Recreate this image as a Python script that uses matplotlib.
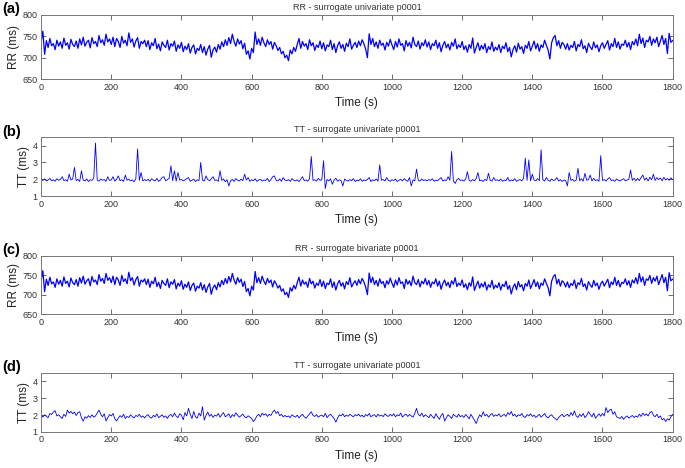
import matplotlib
matplotlib.use('Agg')
import matplotlib.pyplot as plt
import numpy as np

plt.rcParams['font.family'] = ['Liberation Sans', 'DejaVu Sans']

# sample times (s), one value every 5 s
t = np.arange(0, 1801, 5)

# RR - surrogate univariate (ms)
rr_univariate = [
    736, 762, 708, 740, 724, 745, 728, 733, 719, 741, 727, 737, 722, 746, 729, 735, 720, 743, 731, 726,
    739, 722, 744, 730, 748, 727, 736, 741, 723, 747, 733, 738, 726, 752, 735, 742, 729, 755, 737, 744,
    731, 748, 726, 745, 738, 724, 750, 734, 741, 728, 758, 736, 744, 725, 739, 747, 722, 738, 733, 741,
    726, 740, 719, 735, 728, 745, 721, 732, 716, 737, 729, 724, 741, 718, 733, 727, 739, 715, 730, 722,
    736, 714, 727, 719, 733, 711, 724, 730, 709, 722, 717, 731, 712, 726, 706, 720, 729, 701, 718, 725,
    713, 731, 720, 737, 726, 742, 729, 747, 733, 755, 738, 727, 744, 732, 740, 721, 734, 708, 716, 697,
    722, 712, 760, 731, 744, 729, 748, 735, 726, 742, 731, 738, 720, 736, 728, 717, 724, 709, 715, 700,
    706, 693, 718, 709, 724, 715, 731, 745, 722, 738, 727, 733, 719, 742, 728, 735, 717, 730, 724, 739,
    721, 735, 716, 730, 726, 741, 719, 733, 712, 728, 737, 722, 731, 715, 734, 726, 744, 720, 729, 736,
    724, 739, 728, 742, 733, 720, 700, 756, 731, 745, 726, 737, 722, 741, 729, 734, 718, 736, 727, 743,
    730, 719, 738, 725, 744, 729, 733, 716, 740, 727, 736, 723, 748, 731, 726, 739, 720, 735, 728, 742,
    725, 737, 719, 733, 728, 741, 722, 735, 714, 729, 738, 723, 732, 718, 736, 727, 744, 721, 730, 724,
    738, 719, 728, 713, 731, 722, 746, 711, 724, 735, 717, 729, 720, 733, 712, 726, 719, 737, 715, 725,
    718, 731, 712, 727, 721, 735, 714, 724, 702, 719, 728, 713, 734, 720, 726, 710, 729, 722, 738, 716,
    727, 739, 721, 733, 715, 730, 724, 741, 729, 718, 697, 735, 747, 752, 728, 740, 722, 736, 731, 720,
    733, 718, 729, 724, 738, 716, 731, 726, 742, 721, 728, 712, 734, 725, 719, 737, 723, 730, 714, 728,
    735, 722, 731, 740, 718, 733, 726, 745, 724, 737, 720, 732, 729, 741, 725, 736, 719, 738, 730, 744,
    728, 755, 733, 746, 724, 741, 737, 750, 729, 744, 735, 748, 726, 739, 752, 731, 745, 710, 757, 736,
    740,
]

# RR - surrogate bivariate (ms): looks the same as the univariate one in the picture
rr_bivariate = list(rr_univariate)

# TT - surrogate univariate, panel (b) (ms)
tt_spiky = [
    1.98, 1.93, 2.02, 1.90, 1.96, 2.04, 1.91, 1.97, 1.89, 2.03, 1.94, 1.99, 2.15, 1.92, 1.97, 1.88, 2.30, 1.95, 2.01, 2.70,
    1.92, 1.99, 1.87, 2.50, 1.95, 1.90, 2.02, 1.86, 1.97, 1.93, 2.06, 4.15, 1.95, 1.89, 2.01, 1.94, 1.98, 1.88, 2.15, 1.93,
    1.96, 2.15, 1.89, 2.00, 2.20, 1.92, 1.97, 1.87, 2.25, 1.94, 2.01, 1.90, 1.96, 1.85, 2.03, 3.80, 1.93, 2.40, 1.90, 1.98,
    1.92, 1.99, 1.88, 2.03, 1.95, 1.90, 2.05, 1.87, 1.96, 2.10, 2.15, 1.91, 1.98, 2.06, 2.80, 1.92, 2.50, 1.89, 2.40, 1.95,
    1.99, 1.90, 1.96, 2.04, 2.10, 1.88, 1.94, 2.01, 1.86, 1.97, 1.92, 3.00, 1.95, 1.89, 2.20, 1.98, 1.91, 2.03, 2.15, 1.93,
    1.96, 1.88, 2.50, 1.93, 2.02, 1.85, 1.97, 1.60, 1.91, 1.99, 1.87, 2.04, 1.94, 1.89, 2.01, 1.92, 2.30, 1.95, 2.10, 1.88,
    1.97, 1.91, 2.03, 1.87, 1.95, 2.00, 1.89, 1.96, 1.92, 2.05, 1.86, 1.98, 2.15, 2.20, 1.93, 1.90, 2.02, 1.88, 2.10, 1.95,
    1.91, 1.98, 1.87, 2.04, 1.94, 1.90, 1.97, 1.86, 2.01, 2.15, 1.92, 1.96, 1.88, 2.03, 3.35, 1.93, 1.97, 1.89, 2.05, 1.94,
    1.96, 3.10, 1.45, 1.99, 1.90, 2.02, 1.70, 1.95, 2.06, 1.88, 1.97, 1.92, 1.60, 2.01, 1.93, 1.89, 1.98, 1.91, 2.04, 1.87,
    1.95, 1.90, 2.03, 1.88, 1.96, 1.92, 1.99, 2.10, 1.86, 1.97, 1.91, 2.02, 1.89, 2.85, 1.94, 1.98, 1.90, 2.10, 1.93, 1.88,
    1.97, 1.92, 2.01, 1.87, 1.95, 1.99, 1.90, 2.04, 1.93, 1.88, 2.10, 1.60, 1.96, 1.91, 2.60, 1.94, 1.89, 2.02, 1.92, 1.97,
    1.90, 1.98, 1.93, 2.03, 1.88, 1.95, 1.91, 2.01, 2.10, 1.89, 1.96, 1.92, 2.15, 1.94, 3.65, 1.90, 1.75, 1.97, 2.05, 1.92,
    1.96, 1.89, 2.02, 2.45, 1.93, 1.88, 1.98, 1.91, 2.04, 2.40, 1.90, 1.95, 1.87, 1.99, 1.92, 2.35, 1.94, 1.89, 2.10, 1.93,
    1.97, 1.90, 2.01, 1.88, 1.95, 1.92, 2.10, 1.89, 1.96, 1.91, 2.03, 1.87, 1.94, 1.98, 1.90, 2.05, 3.25, 1.93, 3.15, 1.91,
    2.30, 1.95, 1.90, 2.04, 1.92, 3.75, 1.97, 1.89, 2.10, 1.94, 1.88, 2.01, 1.93, 1.96, 2.10, 1.90, 1.98, 1.87, 1.95, 1.92,
    1.60, 2.40, 1.93, 1.99, 1.88, 1.95, 2.65, 1.91, 2.03, 1.89, 2.35, 1.94, 1.98, 2.25, 1.90, 2.05, 1.92, 1.97, 1.88, 3.40,
    1.93, 1.98, 1.89, 2.02, 2.10, 1.92, 1.96, 1.88, 2.01, 1.94, 1.90, 1.97, 2.03, 1.91, 1.95, 1.99, 2.55, 1.93, 2.06, 1.90,
    2.05, 1.92, 2.10, 2.25, 1.95, 2.08, 1.90, 2.12, 1.97, 2.30, 1.93, 2.10, 1.98, 2.07, 1.91, 2.12, 1.96, 2.04, 1.94, 2.08,
    1.97,
]

# TT - surrogate univariate, panel (d) (ms)
tt_smooth = [
    2.05, 1.88, 2.02, 1.93, 1.85, 2.10, 2.04, 2.18, 2.26, 1.95, 2.02, 1.90, 1.80, 2.05, 1.92, 2.30, 2.12, 2.22, 2.08, 2.18,
    1.98, 2.15, 2.20, 1.85, 1.64, 1.90, 1.82, 1.97, 1.86, 2.02, 1.88, 1.95, 2.12, 2.30, 2.05, 1.90, 2.08, 1.65, 1.85, 2.03,
    1.95, 2.10, 1.78, 1.65, 1.82, 1.97, 1.87, 2.05, 1.80, 1.92, 1.86, 2.02, 1.90, 1.84, 1.98, 1.92, 2.05, 1.88, 1.95, 1.83,
    1.96, 2.03, 1.88, 1.82, 1.99, 1.90, 2.07, 1.85, 1.93, 2.02, 1.87, 1.95, 1.80, 1.98, 2.04, 1.90, 2.12, 1.94, 1.85, 2.08,
    2.00, 1.72, 2.15, 1.95, 2.40, 2.05, 1.80, 2.22, 1.90, 1.82, 2.12, 1.95, 2.50, 1.70, 1.98, 2.18, 1.93, 2.05, 1.86, 2.00,
    1.94, 2.10, 1.88, 2.02, 2.15, 1.90, 1.98, 2.08, 1.85, 2.03, 1.92, 2.14, 2.00, 1.88, 1.97, 2.06, 1.90, 1.84, 1.96, 1.88,
    1.80, 1.62, 1.75, 1.95, 2.05, 1.90, 2.12, 2.00, 2.08, 1.92, 2.05, 1.98, 2.18, 2.30, 2.10, 2.22, 1.96, 2.05, 1.90, 1.98,
    1.90, 1.95, 1.85, 2.02, 1.93, 1.88, 2.00, 1.84, 1.96, 2.05, 1.90, 1.82, 1.95, 2.08, 2.20, 1.98, 1.92, 2.03, 1.88, 1.96,
    2.00, 1.90, 2.10, 1.85, 1.98, 2.05, 1.92, 1.80, 1.58, 1.82, 2.02, 1.95, 2.08, 1.90, 2.00, 1.93, 2.05, 1.97, 1.90, 2.03,
    1.96, 2.06, 1.92, 2.00, 1.88, 2.04, 1.95, 2.10, 1.90, 1.98, 2.03, 1.89, 2.06, 1.94, 2.00, 1.91, 2.08, 1.97, 1.92, 2.05,
    1.95, 2.08, 1.90, 2.02, 1.96, 2.12, 1.88, 2.00, 2.06, 1.92, 2.04, 1.95, 1.88, 2.10, 2.40, 2.05, 1.95, 2.12, 1.90, 2.02,
    1.94, 1.85, 2.05, 1.92, 1.80, 2.08, 1.90, 1.75, 1.98, 2.10, 1.65, 1.85, 2.02, 1.92, 1.80, 2.05, 1.96, 1.88, 2.06, 1.90,
    1.98, 1.86, 2.04, 1.92, 1.78, 2.05, 1.88, 1.70, 1.50, 1.80, 2.02, 1.90, 2.20, 1.95, 2.05, 1.88, 2.00, 2.10, 1.92, 2.02,
    1.95, 2.08, 1.90, 1.98, 2.05, 1.92, 2.15, 2.03, 2.22, 1.95, 2.05, 1.90, 2.02, 1.96, 2.10, 1.92, 1.86, 2.03, 1.95, 2.08,
    1.92, 2.00, 1.86, 1.95, 2.05, 1.88, 1.98, 2.10, 1.90, 1.84, 1.96, 2.02, 1.88, 1.80, 1.70, 1.85, 1.96, 2.05, 1.90, 1.98,
    2.05, 1.92, 2.15, 1.98, 2.25, 1.95, 1.86, 2.05, 1.92, 2.10, 1.85, 1.98, 2.20, 2.05, 1.90, 2.12, 1.82, 1.95, 2.08, 1.93,
    2.10, 1.95, 2.45, 2.15, 2.30, 2.35, 2.05, 2.20, 1.90, 1.85, 1.80, 1.92, 1.75, 1.88, 1.95, 1.82, 1.90, 1.98, 1.86, 1.95,
    1.88, 2.05, 1.92, 2.12, 1.98, 2.08, 1.95, 2.15, 2.22, 2.00, 1.90, 2.05, 1.85, 1.95, 1.72, 1.80, 1.62, 1.78, 1.70, 1.90,
    2.05,
]

panels = [
    ('(a)', 'RR - surrogate univariate p0001', 'RR (ms)', rr_univariate, (650, 800), [650, 700, 750, 800], 0.9),
    ('(b)', 'TT - surrogate univariate p0001', 'TT (ms)', tt_spiky, (1, 4.5), [1, 2, 3, 4], 0.6),
    ('(c)', 'RR - surrogate bivariate p0001', 'RR (ms)', rr_bivariate, (650, 800), [650, 700, 750, 800], 0.9),
    ('(d)', 'TT - surrogate univariate p0001', 'TT (ms)', tt_smooth, (1, 4.5), [1, 2, 3, 4], 0.6),
]
# axes boxes in figure fraction: left, bottom, width, height
boxes = [
    (0.060, 0.831, 0.922, 0.137),
    (0.060, 0.581, 0.922, 0.126),
    (0.060, 0.329, 0.922, 0.124),
    (0.060, 0.077, 0.922, 0.126),
]

fig = plt.figure(figsize=(6.85, 4.68), dpi=100)
for (tag, title, ylab, vals, ylim, yt, lw), box in zip(panels, boxes):
    ax = fig.add_axes(box)
    ax.plot(t, vals, color='#0000ff', lw=lw)
    ax.set_xlim(0, 1800)
    ax.set_ylim(*ylim)
    ax.set_xticks(range(0, 1801, 200))
    ax.set_yticks(yt)
    ax.tick_params(direction='in', length=3.5, width=0.6, labelsize=6.5, colors='#555555',
                   labelcolor='#333333', top=True, right=True, pad=2.5)
    for s in ax.spines.values():
        s.set_color('#777777')
        s.set_linewidth(0.7)
    ax.set_title(title, fontsize=6.5, color='#333333', pad=3.5)
    ax.set_xlabel('Time (s)', fontsize=8.5, color='#222222', labelpad=4)
    ax.set_ylabel(ylab, fontsize=8.5, color='#222222', labelpad=2)
    fig.text(0.004, box[1] + box[3] + 0.012, tag, fontsize=10.5, fontweight='bold', va='center')

fig.savefig('out.png', dpi=100)
